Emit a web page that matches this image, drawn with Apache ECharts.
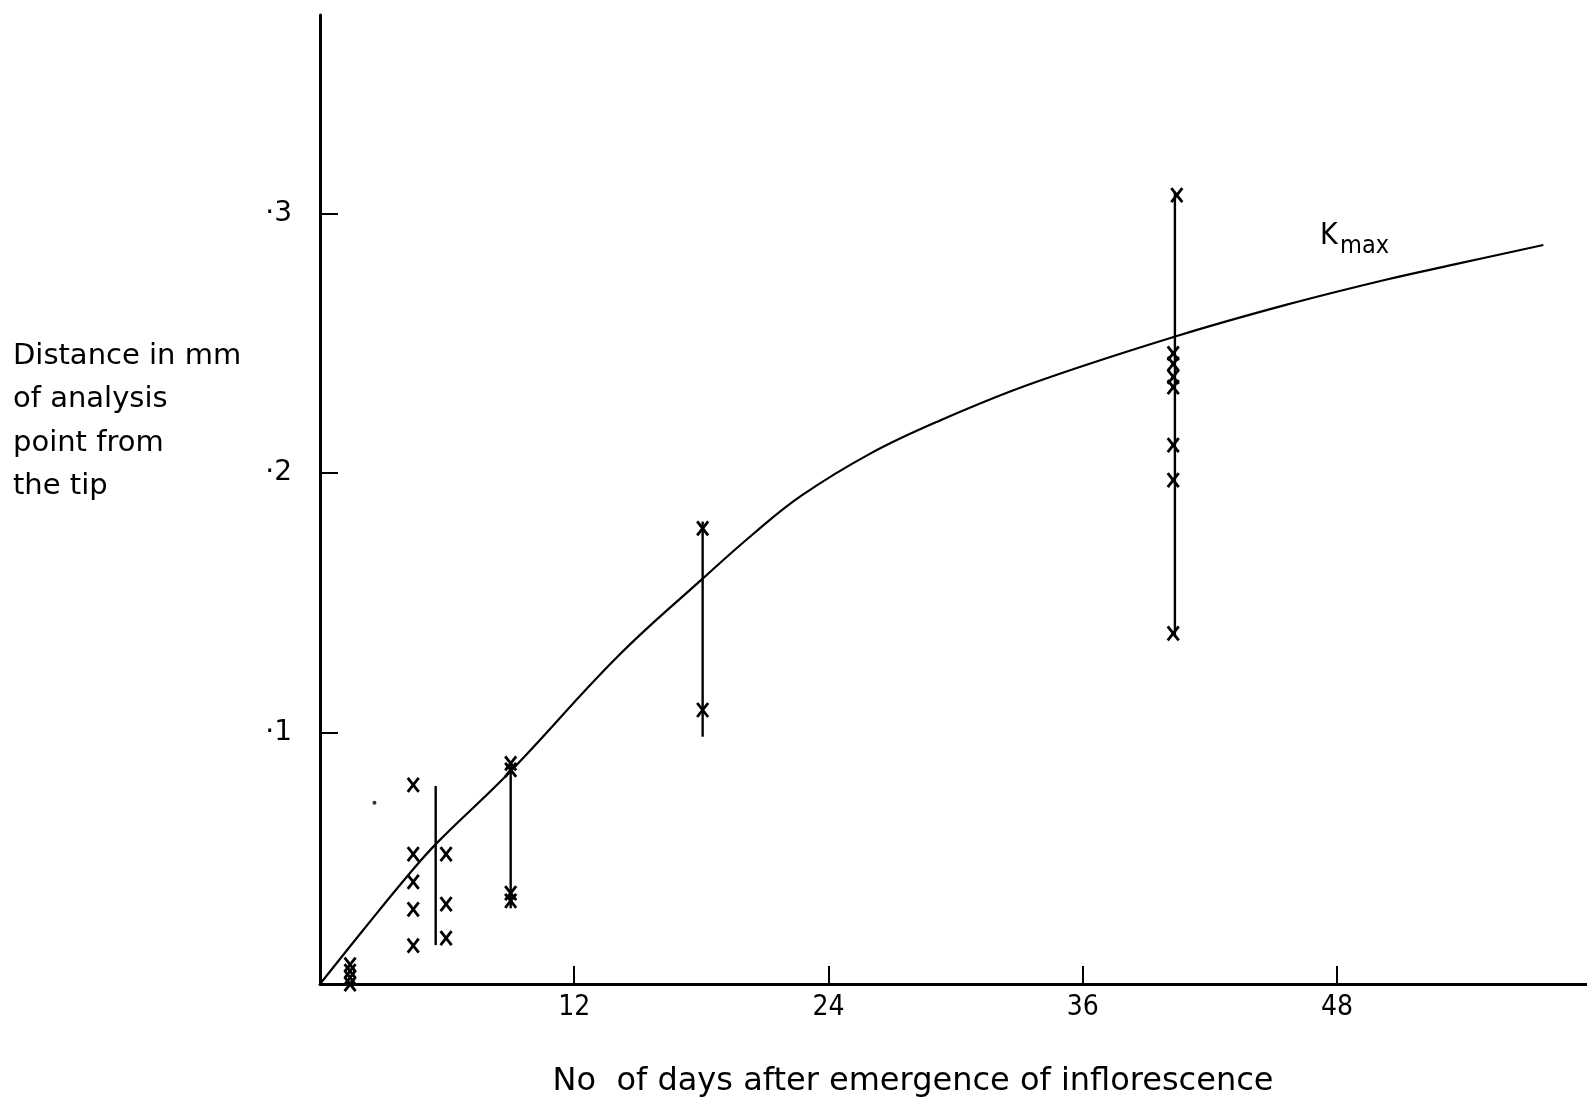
<!DOCTYPE html>
<html>
<head>
<meta charset="utf-8">
<script src="https://cdn.jsdelivr.net/npm/echarts@6/dist/echarts.min.js"></script>
<style>
html,body{margin:0;padding:0;background:#fff;}
#chart{width:1587px;height:1102px;}
</style>
</head>
<body>
<div id="chart"></div>
<script>
// ---- tick values / labels ----
const xTicks = [12, 24, 36, 48];
const yTicks = [0.1, 0.2, 0.3];
const yTickLabels = ['·1', '·2', '·3'];

// ---- fitted curve (K max) ----
const curveDays   = [0, 2.04, 4.17, 5.51, 8.97, 14.05, 18.06, 20.5, 22.72, 25.97, 29.22, 33.56, 40.44, 45.63, 50.35, 53.49, 57.74];
const curveValues = [0.003, 0.0238, 0.045, 0.0573, 0.0848, 0.1292, 0.1592, 0.1768, 0.1912, 0.2074, 0.2200, 0.2343, 0.2527, 0.2648, 0.2745, 0.2802, 0.2878];

// ---- individual observations (x marks) ----
const pointDays   = [1.42, 1.42, 1.42, 1.42,
                     4.40, 4.40, 4.40, 4.40, 4.40,
                     5.95, 5.95, 5.95,
                     9.0, 9.0, 9.0, 9.0,
                     18.06, 18.06,
                     40.44, 40.27, 40.27, 40.27, 40.27, 40.27, 40.27, 40.27];
const pointValues = [0.0105, 0.008, 0.0055, 0.003,
                     0.0797, 0.0531, 0.0424, 0.0318, 0.0178,
                     0.0531, 0.0338, 0.0207,
                     0.088, 0.0855, 0.038, 0.035,
                     0.1786, 0.1086,
                     0.307, 0.246, 0.242, 0.237, 0.233, 0.2107, 0.1972, 0.1381];

// ---- range bars ----
const rangeDays = [5.46, 9.0, 18.06, 40.35];
const rangeLow  = [0.018, 0.0322, 0.0983, 0.1368];
const rangeHigh = [0.0793, 0.0887, 0.1812, 0.3083];

// ---- stray dot ----
const dotDays = [2.57];
const dotValues = [0.0729];

const chart = echarts.init(document.getElementById('chart'), null, {renderer: 'canvas'});

const option = {
  animation: false,
  backgroundColor: '#fff',
  grid: {left: 320, right: 0, top: 15, bottom: 118, containLabel: false, outerBoundsMode: 'none'},
  xAxis: {
    type: 'value', min: 0, max: 59.8,
    axisLine: {show: true, onZero: false, lineStyle: {color: '#000', width: 3}},
    axisTick: {show: true, inside: true, length: 18, customValues: xTicks, lineStyle: {color: '#000', width: 2}},
    axisLabel: {show: true, customValues: xTicks, color: '#000', fontSize: 28, fontFamily: '"DejaVu Sans Condensed", "DejaVu Sans"', margin: 10},
    splitLine: {show: false}
  },
  yAxis: {
    type: 'value', min: 0.00301, max: 0.37642,
    axisLine: {show: true, onZero: false, lineStyle: {color: '#000', width: 3}},
    axisTick: {show: true, inside: true, length: 18, customValues: yTicks, lineStyle: {color: '#000', width: 2}},
    axisLabel: {show: true, customValues: yTicks, color: '#000', fontSize: 28, fontFamily: '"DejaVu Sans"', margin: 28,
      formatter: function (v) { const i = yTicks.findIndex(t => Math.abs(t - v) < 1e-6); return i >= 0 ? yTickLabels[i] : ''; }},
    splitLine: {show: false}
  },
  series: [
    {
      type: 'line',
      data: curveDays.map((d, i) => [d, curveValues[i]]),
      smooth: 0.4,
      showSymbol: false,
      symbol: 'none',
      lineStyle: {color: '#000', width: 2.2},
      z: 3
    },
    {
      type: 'custom',
      data: rangeDays.map((d, i) => [d, rangeLow[i], rangeHigh[i]]),
      encode: {x: 0, y: [1, 2]},
      renderItem: function (params, api) {
        const lo = api.coord([api.value(0), api.value(1)]);
        const hi = api.coord([api.value(0), api.value(2)]);
        return {type: 'line', shape: {x1: lo[0], y1: lo[1], x2: hi[0], y2: hi[1]}, style: {stroke: '#000', lineWidth: 2.4}};
      },
      z: 4
    },
    {
      type: 'custom',
      data: pointDays.map((d, i) => [d, pointValues[i]]),
      encode: {x: 0, y: 1},
      renderItem: function (params, api) {
        const p = api.coord([api.value(0), api.value(1)]);
        const w = 5.5, h = 7;
        return {type: 'group', children: [
          {type: 'line', shape: {x1: p[0] - w, y1: p[1] - h, x2: p[0] + w, y2: p[1] + h}, style: {stroke: '#000', lineWidth: 2.8}},
          {type: 'line', shape: {x1: p[0] + w, y1: p[1] - h, x2: p[0] - w, y2: p[1] + h}, style: {stroke: '#000', lineWidth: 2.8}}
        ]};
      },
      z: 5
    },
    {
      type: 'scatter',
      data: dotDays.map((d, i) => [d, dotValues[i]]),
      symbol: 'circle',
      symbolSize: 4,
      itemStyle: {color: '#000'},
      z: 5
    }
  ],
  graphic: [
    {
      type: 'text', left: 13, top: 335,
      style: {text: 'Distance in mm\nof analysis\npoint from\nthe tip', fill: '#000', fontSize: 29, fontFamily: '"DejaVu Sans"', lineHeight: 43.3}
    },
    {
      type: 'text', x: 913, y: 1082,
      style: {text: 'No  of days after emergence of inflorescence', fill: '#000', fontSize: 32, fontFamily: '"DejaVu Sans"', align: 'center', verticalAlign: 'middle'}
    },
    {
      type: 'text', x: 1320, y: 236,
      style: {text: 'K', fill: '#000', fontSize: 30, fontFamily: '"DejaVu Sans Condensed", "DejaVu Sans"', align: 'left', verticalAlign: 'middle'}
    },
    {
      type: 'text', x: 1340, y: 246.5,
      style: {text: 'max', fill: '#000', fontSize: 25, fontFamily: '"DejaVu Sans Condensed", "DejaVu Sans"', align: 'left', verticalAlign: 'middle'}
    }
  ]
};
chart.setOption(option);
</script>
</body>
</html>
